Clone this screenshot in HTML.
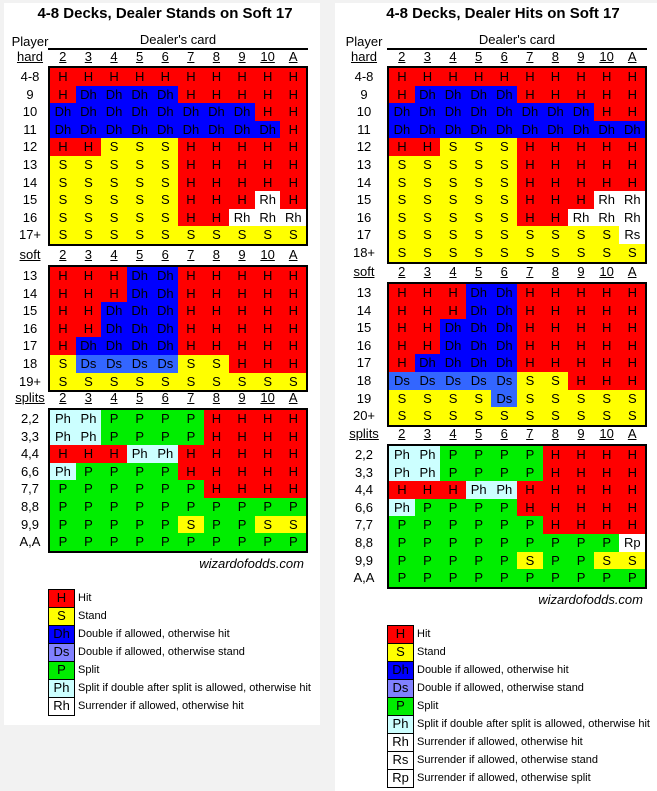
<!DOCTYPE html>
<html><head><meta charset="utf-8">
<style>
html,body{margin:0;padding:0;}
body{width:657px;height:791px;background:#f2f2f2;position:relative;overflow:hidden;font-family:"Liberation Sans",Arial,sans-serif;color:#000;}
.panel{position:absolute;background:#fff;}
.abs{position:absolute;white-space:nowrap;}
.title{font-weight:bold;font-size:15px;text-align:center;}
.lbl{font-size:13px;text-align:center;line-height:18px;}
.u{text-decoration:underline;}
.cell{position:absolute;font-size:13px;text-align:center;overflow:hidden;}
.tbl{position:absolute;border:2px solid #000;box-sizing:border-box;}
.lg{position:absolute;font-size:11px;line-height:18px;}
.lbox{position:absolute;border:1px solid #000;box-sizing:border-box;font-size:13px;text-align:center;line-height:16px;}
</style></head>
<body>
<div class="panel" style="left:4px;top:3px;width:316px;height:722px;"></div>
<div class="panel" style="left:335px;top:3px;width:322px;height:788px;"></div>
<div id="root"></div>
<script>
const cols=["2","3","4","5","6","7","8","9","10","A"];
const leftHardLabels=["4-8","9","10","11","12","13","14","15","16","17+"];
const leftHard=[
"H H H H H H H H H H","H Dh Dh Dh Dh H H H H H","Dh Dh Dh Dh Dh Dh Dh Dh H H","Dh Dh Dh Dh Dh Dh Dh Dh Dh H",
"H H S S S H H H H H","S S S S S H H H H H","S S S S S H H H H H","S S S S S H H H Rh H",
"S S S S S H H Rh Rh Rh","S S S S S S S S S S"];
const leftSoftLabels=["13","14","15","16","17","18","19+"];
const leftSoft=["H H H Dh Dh H H H H H","H H H Dh Dh H H H H H","H H Dh Dh Dh H H H H H","H H Dh Dh Dh H H H H H",
"H Dh Dh Dh Dh H H H H H","S Ds Ds Ds Ds S S H H H","S S S S S S S S S S"];
const splitLabels=["2,2","3,3","4,4","6,6","7,7","8,8","9,9","A,A"];
const leftSplit=["Ph Ph P P P P H H H H","Ph Ph P P P P H H H H","H H H Ph Ph H H H H H","Ph P P P P H H H H H",
"P P P P P P H H H H","P P P P P P P P P P","P P P P P S P P S S","P P P P P P P P P P"];
const rightHardLabels=["4-8","9","10","11","12","13","14","15","16","17","18+"];
const rightHard=["H H H H H H H H H H","H Dh Dh Dh Dh H H H H H","Dh Dh Dh Dh Dh Dh Dh Dh H H","Dh Dh Dh Dh Dh Dh Dh Dh Dh Dh",
"H H S S S H H H H H","S S S S S H H H H H","S S S S S H H H H H","S S S S S H H H Rh Rh",
"S S S S S H H Rh Rh Rh","S S S S S S S S S Rs","S S S S S S S S S S"];
const rightSoftLabels=["13","14","15","16","17","18","19","20+"];
const rightSoft=["H H H Dh Dh H H H H H","H H H Dh Dh H H H H H","H H Dh Dh Dh H H H H H","H H Dh Dh Dh H H H H H",
"H Dh Dh Dh Dh H H H H H","Ds Ds Ds Ds Ds S S H H H","S S S S Ds S S S S S","S S S S S S S S S S"];
const rightSplit=["Ph Ph P P P P H H H H","Ph Ph P P P P H H H H","H H H Ph Ph H H H H H","Ph P P P P H H H H H",
"P P P P P P H H H H","P P P P P P P P P Rp","P P P P P S P P S S","P P P P P P P P P P"];
const legendCodes=["H","S","Dh","Ds","P","Ph","Rh","Rs","Rp"];
const legendText=["Hit","Stand","Double if allowed, otherwise hit","Double if allowed, otherwise stand","Split",
"Split if double after split is allowed, otherwise hit","Surrender if allowed, otherwise hit",
"Surrender if allowed, otherwise stand","Surrender if allowed, otherwise split"];
const colorMap={H:"#ff0000",S:"#ffff00",Dh:"#0000ff",Ds:"#3366ff",P:"#00ee00",Ph:"#ccffff",Rh:"#ffffff",Rs:"#ffffff",Rp:"#ffffff"};
const legendColor={H:"#ff0000",S:"#ffff00",Dh:"#0000ff",Ds:"#8080ff",P:"#00ee00",Ph:"#ccffff",Rh:"#ffffff",Rs:"#ffffff",Rp:"#ffffff"};
const ROW=17.6;
const root=document.getElementById('root');
function mk(cls,style,text){const d=document.createElement('div');d.className=cls;d.setAttribute('style',style);if(text!==undefined)d.textContent=text;root.appendChild(d);return d;}
function header(x0,labelX,y,word){
  const w=mk('abs lbl u','left:'+(labelX-25)+'px;top:'+y+'px;width:50px;',word);
  
  
  cols.forEach((c,i)=>{
    const d=mk('abs lbl u','left:'+(x0+2+i*25.6)+'px;top:'+y+'px;width:25.6px;',c);
    
    
  });
}
function grid(x0,labelX,top,labels,rows,name){
  const h=rows.length*ROW+4;
  const t=mk('tbl','left:'+x0+'px;top:'+top+'px;width:260px;height:'+h+'px;');
  
  
  rows.forEach((r,ri)=>{
    const y=top+2+ri*ROW;
    const lab=mk('abs lbl','left:'+(labelX-25)+'px;top:'+y+'px;width:50px;line-height:'+ROW+'px;',labels[ri]);
    
    
    r.split(' ').forEach((code,ci)=>{
      const c=mk('cell','left:'+(x0+2+ci*25.6)+'px;top:'+y+'px;width:25.8px;height:'+(ROW+0.2)+'px;line-height:'+ROW+'px;background:'+colorMap[code]+';',code);
      
      
    });
  });
}
function panel(x0,labelX,titleCx,title,hardL,hard,softL,soft,split,tops,footY,legTop,nLeg){
  const t=mk('abs title','left:'+(titleCx-160)+'px;top:5px;width:320px;',title);
  
  
  const p=mk('abs lbl','left:'+(labelX-25)+'px;top:33px;width:50px;','Player');
  
  
  const dc=mk('abs lbl','left:'+x0+'px;top:31px;width:260px;',"Dealer's card");
  
  
  const ln=mk('abs','left:'+x0+'px;top:48px;width:260px;height:1.5px;background:#000;');
  
  
  header(x0,labelX,48,'hard');
  grid(x0,labelX,tops[0],hardL,hard,'hard');
  header(x0,labelX,tops[1]-19,'soft');
  grid(x0,labelX,tops[1],softL,soft,'soft');
  header(x0,labelX,tops[2]-19,'splits');
  grid(x0,labelX,tops[2],splitLabels,split,'splits');
  const f=mk('abs','left:'+(x0+100)+'px;top:'+footY+'px;width:156px;text-align:right;font-size:13px;font-style:italic;','wizardofodds.com');
  
  
  for(let i=0;i<nLeg;i++){
    const code=legendCodes[i];
    const b=mk('lbox','left:'+x0+'px;top:'+(legTop+i*18)+'px;width:27px;height:19px;background:'+legendColor[code]+';',code);
    
    
    const tx=mk('lg','left:'+(x0+30)+'px;top:'+(legTop+i*18)+'px;',legendText[i]);
    
    
  }
}
panel(48,30,165,"4-8 Decks, Dealer Stands on Soft 17",leftHardLabels,leftHard,leftSoftLabels,leftSoft,leftSplit,[66,265,408],556,589,7);
panel(387,364,503,"4-8 Decks, Dealer Hits on Soft 17",rightHardLabels,rightHard,rightSoftLabels,rightSoft,rightSplit,[66,282,444],592,625,9);
</script>
</body></html>
